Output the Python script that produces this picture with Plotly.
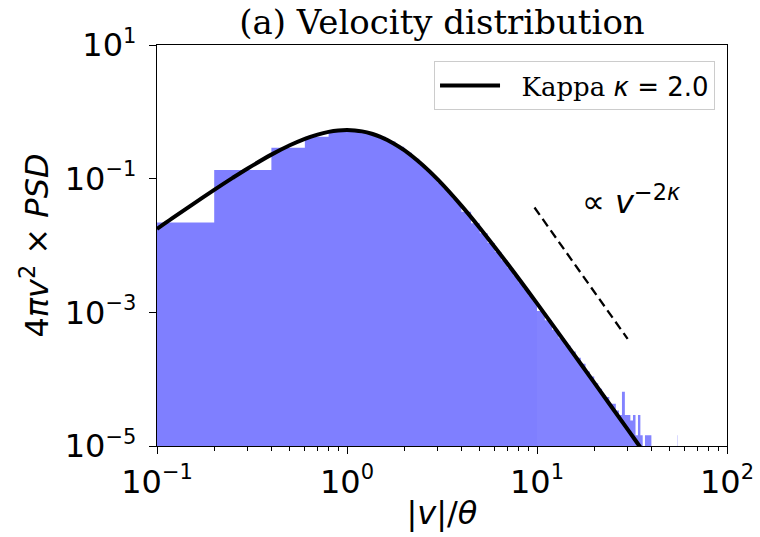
import plotly.graph_objects as go

# ---------------- data ----------------
# histogram of |v|/theta : bin edges and bar heights (4*pi*v^2 * PSD)
bin_edges = [0.0, 0.2, 0.4, 0.6, 0.8, 1.0, 1.2, 1.4, 1.6, 1.8, 2.0,
             2.2, 2.4, 2.6, 2.8, 3.0, 3.2, 3.4, 3.6, 3.8, 4.0,
             4.5, 5.0, 5.5, 6.0, 6.5, 7.0, 7.5, 8.0, 8.5, 9.0, 9.5, 10.0,
             11, 12, 13, 14, 15, 16, 17, 18, 19, 20,
             21, 22, 23, 24, 25, 26, 27, 28, 29, 30,
             31, 32, 33, 34, 35, 36, 37, 38, 39, 40,
             55.0, 55.2]
bin_heights = [0.022, 0.135, 0.29, 0.425, 0.505, 0.525, 0.485, 0.425, 0.36, 0.30,
               0.245, 0.198, 0.16, 0.13, 0.106, 0.087, 0.072, 0.060, 0.050, 0.042,
               0.032, 0.0215, 0.0152, 0.0109, 0.0080, 0.0060, 0.0046, 0.0036,
               0.0028, 0.00225, 0.0018, 0.00148,
               1.05e-3, 7.6e-4, 5.5e-4, 4.1e-4, 3.2e-4, 2.6e-4, 2.1e-4, 1.7e-4, 1.3e-4, 1.1e-4,
               8.7e-5, 7.2e-5, 5.8e-5, 5.4e-5, 4.3e-5, 4.3e-5, 3.4e-5, 2.9e-5, 6.5e-5, 2.9e-5,
               2.9e-5, 2.4e-5, 2.9e-5, 1.45e-5, 2.9e-5, 1.45e-5, 0.0, 1.45e-5, 1.45e-5, 1.45e-5,
               0.0, 1.45e-5]

# kappa model curve (kappa = 2.0)
curve_v = [0.1, 0.12, 0.15, 0.2, 0.25, 0.3, 0.4, 0.5, 0.6, 0.7, 0.8, 0.9, 1.0,
           1.1, 1.2, 1.35, 1.5, 1.75, 2.0, 2.5, 3.0, 4.0, 5.0, 7.0, 10.0,
           15.0, 20.0, 30.0, 35.0, 40.0]
curve_y = [0.0177, 0.0254, 0.0392, 0.0679, 0.1026, 0.142, 0.229, 0.316, 0.395,
           0.457, 0.501, 0.526, 0.534, 0.527, 0.510, 0.470, 0.422, 0.340, 0.267,
           0.160, 0.0974, 0.0395, 0.0183, 0.00532, 0.00136, 2.77e-4, 8.87e-5,
           1.77e-5, 9.55e-6, 5.6e-6]

# power-law guide  ∝ v^(-2κ)
guide_v = [9.7, 30.0]
guide_y = [0.037, 4.0e-4]

# axis ticks
x_tickvals = [0.1, 1, 10, 100]
x_ticktext = ["10<sup><span style='font-size:21px'>−1</span></sup>",
              "10<sup><span style='font-size:21px'>0</span></sup>",
              "10<sup><span style='font-size:21px'>1</span></sup>",
              "10<sup><span style='font-size:21px'>2</span></sup>"]
y_tickvals = [1e-5, 1e-3, 1e-1, 10]
y_ticktext = ["10<sup><span style='font-size:21px'>−5</span></sup>",
              "10<sup><span style='font-size:21px'>−3</span></sup>",
              "10<sup><span style='font-size:21px'>−1</span></sup>",
              "10<sup><span style='font-size:21px'>1</span></sup>"]

legend_label = ('&nbsp;&nbsp;Kappa <span style="font-family:DejaVu Sans">'
                '<i>κ</i> = 2.0</span>')


def step_polygon(edges, heights, floor=1e-8):
    xs, ys = [], []
    for i, h in enumerate(heights):
        x0 = max(edges[i], 1e-3)
        x1 = edges[i + 1]
        hh = h if h > 0 else floor
        xs += [x0, x1]
        ys += [hh, hh]
    xs = [xs[0]] + xs + [xs[-1]]
    ys = [floor] + ys + [floor]
    return xs, ys


split = bin_edges.index(10.0)
hx1, hy1 = step_polygon(bin_edges[:split + 1], bin_heights[:split])
hx2, hy2 = step_polygon(bin_edges[split:], bin_heights[split:])

fig = go.Figure()
fig.add_trace(go.Scatter(x=hx1, y=hy1, mode="lines", line=dict(width=0),
                         fill="toself", fillcolor="rgba(0,0,255,0.5)",
                         showlegend=False, hoverinfo="skip"))
fig.add_trace(go.Scatter(x=hx2, y=hy2, mode="lines", line=dict(width=0),
                         fill="toself", fillcolor="rgba(0,0,255,0.485)",
                         showlegend=False, hoverinfo="skip"))
fig.add_trace(go.Scatter(x=curve_v, y=curve_y, mode="lines",
                         line=dict(color="black", width=4, shape="spline"),
                         name=legend_label))
fig.add_trace(go.Scatter(x=guide_v, y=guide_y, mode="lines",
                         line=dict(color="black", width=2.3, dash="9px,5px"),
                         showlegend=False))

tickfont = dict(family="DejaVu Sans", size=32, color="black")
axis_common = dict(
    type="log", showline=True, mirror=True, linecolor="black", linewidth=1.3,
    ticks="outside", ticklen=7, tickwidth=1.3, tickcolor="black",
    showgrid=False, zeroline=False,
    tickfont=tickfont, automargin=False,
)

fig.update_xaxes(
    **axis_common, range=[-1, 2],
    tickmode="array", tickvals=x_tickvals, ticktext=x_ticktext,
    minor=dict(ticks="outside", ticklen=4, tickwidth=1, tickcolor="black",
               dtick="D1", showgrid=False),
    title=dict(text="|<i>v</i>|/<i>θ</i>",
               font=dict(family="DejaVu Sans", size=32, color="black"),
               standoff=2),
)
fig.update_yaxes(
    **axis_common, range=[-5, 1],
    tickmode="array", tickvals=y_tickvals, ticktext=y_ticktext,
    ticklabelstandoff=6,
    title=dict(text="4<i>πv</i><sup>2</sup> × <i>PSD</i>",
               font=dict(family="DejaVu Sans", size=32, color="black"),
               standoff=6),
)

fig.update_layout(
    width=760, height=537,
    margin=dict(l=157, r=33, t=45, b=91),
    plot_bgcolor="white", paper_bgcolor="white",
    title=dict(text="(a) Velocity distribution",
               font=dict(family="DejaVu Serif", size=34, color="black"),
               x=0.5, xref="paper", xanchor="center",
               y=1 - 22 / 537, yref="container", yanchor="middle"),
    legend=dict(x=0.486, y=0.96, xanchor="left", yanchor="top",
                bgcolor="white", bordercolor="#cccccc", borderwidth=1,
                font=dict(family="DejaVu Serif", size=26, color="black"),
                itemwidth=60),
    annotations=[dict(text="∝ <i>v</i><sup>−2<i>κ</i></sup>",
                      xref="paper", yref="paper",
                      x=(580 - 157) / 570, y=(446 - 200) / 401,
                      xanchor="left", yanchor="middle", showarrow=False,
                      font=dict(family="DejaVu Sans", size=32, color="black"))],
)

fig.write_html("out.html")
